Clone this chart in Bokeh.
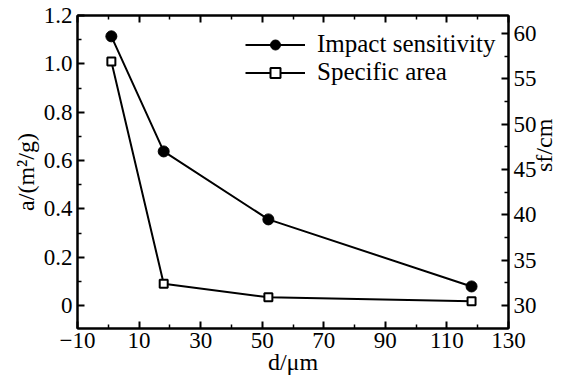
import math
from bokeh.plotting import figure
from bokeh.models import LinearAxis, Range1d, FixedTicker, Legend, LegendItem
from bokeh.embed import file_html
from bokeh.resources import INLINE

# ---- data ----
d_um = [1, 18, 52, 118]
specific_area = [1.01, 0.09, 0.034, 0.018]          # a / (m^2/g), left axis
impact_sensitivity = [59.7, 47.0, 39.5, 32.1]        # s_f / cm, right axis

x_ticks = [-10, 10, 30, 50, 70, 90, 110, 130]
x_minor = [0, 20, 40, 60, 80, 100, 120]
left_ticks = [0, 0.2, 0.4, 0.6, 0.8, 1.0, 1.2]
left_minor = [0.1, 0.3, 0.5, 0.7, 0.9, 1.1]
right_ticks = [30, 35, 40, 45, 50, 55, 60]
right_minor = [32.5, 37.5, 42.5, 47.5, 52.5, 57.5]

FONT = "Liberation Serif"
TICK_SIZE = "23px"
TITLE_SIZE = "24px"

p = figure(frame_width=431, frame_height=313,
           x_range=Range1d(-10, 130), y_range=Range1d(-0.095, 1.2),
           output_backend="svg", toolbar_location=None,
           min_border_left=77, min_border_right=58,
           min_border_top=15, min_border_bottom=52)
p.extra_y_ranges = {"s": Range1d(27.46, 62.0)}

bottom_axis = p.below[0]
left_axis = p.left[0]
bottom_axis.ticker = FixedTicker(ticks=x_ticks, minor_ticks=x_minor)
left_axis.ticker = FixedTicker(ticks=left_ticks, minor_ticks=left_minor)
left_axis.major_label_overrides = {0: "0", 1: "1.0"}

right_axis = LinearAxis(y_range_name="s",
                        ticker=FixedTicker(ticks=right_ticks, minor_ticks=right_minor))
p.add_layout(right_axis, "right")
top_axis = LinearAxis(ticker=FixedTicker(ticks=x_ticks, minor_ticks=x_minor))
p.add_layout(top_axis, "above")

for ax in [bottom_axis, left_axis, right_axis, top_axis]:
    ax.axis_line_width = 2
    ax.axis_line_color = "black"
    ax.major_tick_in = 7
    ax.major_tick_out = 0
    ax.minor_tick_in = 4
    ax.minor_tick_out = 0
    ax.major_tick_line_width = 2
    ax.minor_tick_line_width = 1.5
    ax.major_tick_line_color = "black"
    ax.minor_tick_line_color = "black"
    ax.major_label_text_font = FONT
    ax.major_label_text_color = "black"
    ax.major_label_text_font_size = TICK_SIZE
    ax.major_label_standoff = 5
    ax.axis_label_text_font = FONT
    ax.axis_label_text_font_size = TITLE_SIZE
    ax.axis_label_text_font_style = "normal"
    ax.axis_label_text_color = "black"
top_axis.major_label_standoff = 0
top_axis.major_label_text_font_size = "0px"
top_axis.major_label_text_alpha = 0

# axis titles
bottom_axis.axis_label = "d/μm"
bottom_axis.major_label_standoff = 4
bottom_axis.axis_label_standoff = -2
left_axis.axis_label = "a/(m²/g)"
left_axis.axis_label_standoff = 2
right_axis.axis_label = "sf/cm"
right_axis.axis_label_standoff = 4
if "axis_label_orientation" in right_axis.properties():
    right_axis.axis_label_orientation = math.pi / 2

p.grid.visible = False
p.outline_line_color = "black"
p.outline_line_width = 2
p.background_fill_color = "white"
p.border_fill_color = "white"

# ---- series ----
l_sa = p.line(d_um, specific_area, line_color="black", line_width=2)
s_sa = p.scatter(d_um, specific_area, marker="square", size=8,
                 fill_color="white", line_color="black", line_width=2)
l_is = p.line(d_um, impact_sensitivity, y_range_name="s", line_color="black", line_width=2)
s_is = p.scatter(d_um, impact_sensitivity, y_range_name="s", marker="circle", size=11,
                 fill_color="black", line_color="black")

legend = Legend(items=[LegendItem(label="Impact sensitivity", renderers=[l_is, s_is]),
                       LegendItem(label="Specific area", renderers=[l_sa, s_sa])],
                location=(168, 242), padding=0, margin=0, spacing=-4,
                glyph_width=60, glyph_height=25, label_height=25, label_standoff=12,
                label_text_font=FONT, label_text_font_size="25px",
                label_text_color="black",
                border_line_alpha=0, background_fill_alpha=0)
p.add_layout(legend)

open("out.html", "w").write(file_html(p, INLINE))
